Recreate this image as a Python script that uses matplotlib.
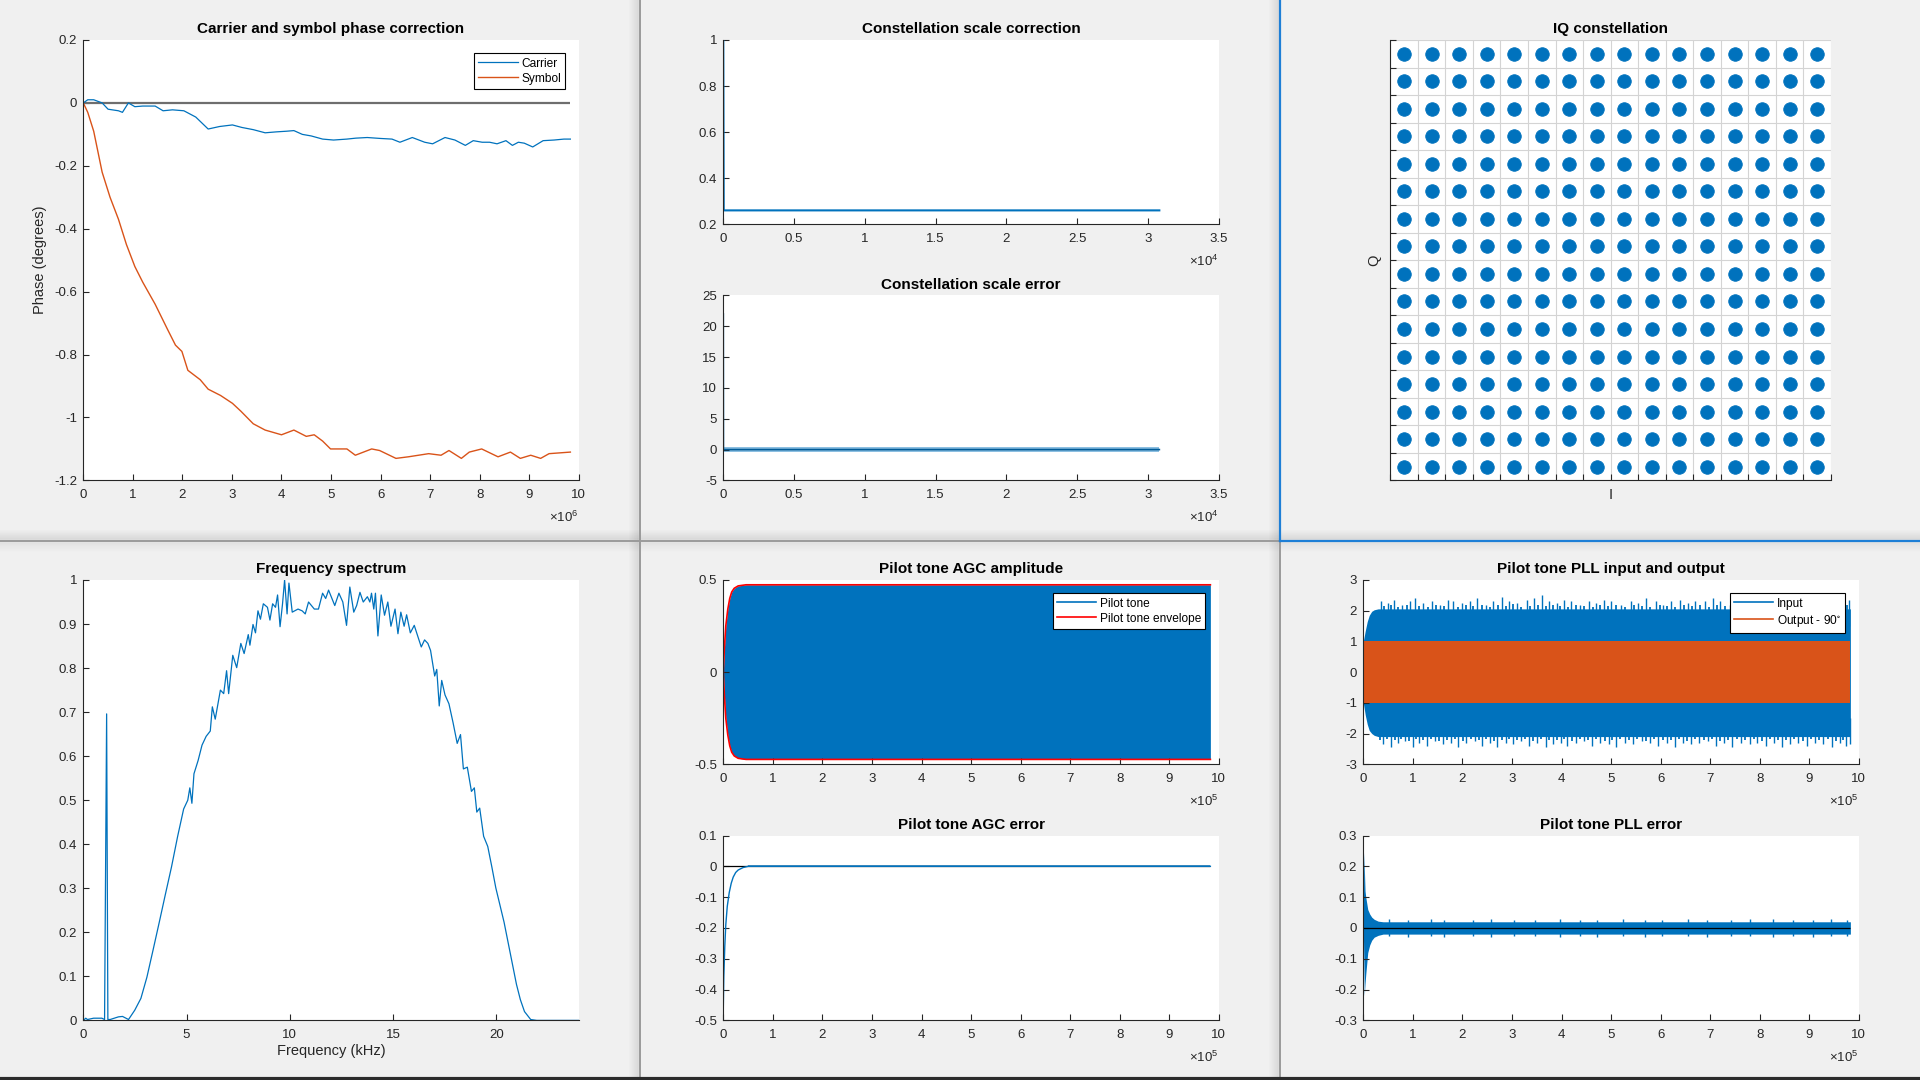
import numpy as np
import matplotlib
matplotlib.use('Agg')
import matplotlib.pyplot as plt
from matplotlib.lines import Line2D
from matplotlib.ticker import FuncFormatter

plt.rcParams['font.family'] = ['Liberation Sans', 'DejaVu Sans']
plt.rcParams['mathtext.fontset'] = 'custom'
plt.rcParams['mathtext.rm'] = 'Liberation Sans'
plt.rcParams['mathtext.it'] = 'Liberation Sans:italic'
plt.rcParams['mathtext.bf'] = 'Liberation Sans:bold'
plt.rcParams['mathtext.default'] = 'regular'

BLUE = '#0072BD'
ORANGE = '#D95319'
AXC = '#262626'
BG = '#F0F0F0'

# ---------------- data ----------------
# Carrier / symbol phase correction (x in units of 1e6 samples)
carrier_x = [0, 0.09, 0.21, 0.38, 0.50, 0.71, 0.79, 0.91, 1.04, 1.2,
             1.45, 1.61, 1.8, 2.03, 2.27, 2.52, 2.75, 3.01, 3.2, 3.43,
             3.67, 3.9, 4.1, 4.25, 4.42, 4.6, 4.83, 5.05, 5.32, 5.5,
             5.73, 6.0, 6.23, 6.39, 6.64, 6.89, 7.05, 7.30, 7.5, 7.71,
             7.87, 8.05, 8.20, 8.35, 8.53, 8.66, 8.78, 8.9, 9.07, 9.28,
             9.5, 9.7, 9.83]
carrier_y = [0, 0.01, 0.01, 0.0, -0.02, -0.025, -0.03, 0.0, -0.012, -0.01,
             -0.01, -0.025, -0.022, -0.025, -0.045, -0.083, -0.075, -0.07, -0.078, -0.085,
             -0.095, -0.092, -0.09, -0.088, -0.1, -0.105, -0.115, -0.118, -0.115, -0.112,
             -0.11, -0.113, -0.115, -0.125, -0.11, -0.125, -0.13, -0.11, -0.118, -0.135,
             -0.12, -0.125, -0.125, -0.13, -0.12, -0.135, -0.125, -0.128, -0.14, -0.12,
             -0.118, -0.115, -0.115]
symbol_x = [0, 0.09, 0.21, 0.38, 0.54, 0.71, 0.87, 1.04, 1.20, 1.45,
            1.70, 1.86, 1.99, 2.11, 2.36, 2.52, 2.77, 3.01, 3.18, 3.43,
            3.67, 4.00, 4.25, 4.50, 4.66, 4.83, 4.99, 5.32, 5.49, 5.82,
            5.98, 6.31, 6.56, 6.97, 7.22, 7.38, 7.63, 7.79, 8.04, 8.37,
            8.62, 8.82, 9.03, 9.23, 9.40, 9.83]
symbol_y = [0, -0.03, -0.09, -0.22, -0.30, -0.37, -0.45, -0.52, -0.57, -0.64,
            -0.72, -0.77, -0.79, -0.85, -0.88, -0.91, -0.93, -0.955, -0.98, -1.02,
            -1.04, -1.055, -1.04, -1.06, -1.055, -1.075, -1.10, -1.10, -1.12, -1.10,
            -1.105, -1.13, -1.125, -1.115, -1.12, -1.105, -1.13, -1.11, -1.10, -1.125,
            -1.11, -1.13, -1.12, -1.13, -1.115, -1.11]

# Constellation scale correction / error (x in samples)
scale_corr_x = [0, 30, 30800]
scale_corr_y = [1.0, 0.26, 0.26]
scale_err_x = [0, 10, 30800]
scale_err_y = [22.0, 0.0, 0.0]
scale_err_band = 0.35

# IQ constellation (256-QAM levels)
iq_levels = [-15, -13, -11, -9, -7, -5, -3, -1, 1, 3, 5, 7, 9, 11, 13, 15]

# Frequency spectrum
spec_khz = [0, 0.12, 0.2, 0.5, 0.9, 1.03, 1.13, 1.19, 1.3, 1.7,
            1.9, 2.19, 2.49, 2.79, 3.08, 3.38, 3.68, 3.97, 4.27, 4.57,
            4.86, 5.06, 5.16, 5.26, 5.36, 5.56, 5.75, 5.95, 6.15, 6.25,
            6.39, 6.64, 6.8, 6.94, 7.04, 7.24, 7.43, 7.63, 7.79, 7.99,
            8.07, 8.22, 8.34, 8.46, 8.58, 8.72, 8.92, 9.04, 9.17, 9.31,
            9.41, 9.53, 9.65, 9.75, 9.87, 9.96, 10.12, 10.4, 10.6, 10.75,
            10.91, 11.19, 11.39, 11.59, 11.74, 11.88, 12.18, 12.38, 12.57, 12.75,
            12.91, 13.1, 13.24, 13.4, 13.56, 13.76, 13.88, 13.96, 14.07, 14.15,
            14.27, 14.43, 14.59, 14.75, 14.9, 15.1, 15.24, 15.38, 15.54, 15.66,
            15.84, 16.03, 16.23, 16.37, 16.53, 16.69, 16.82, 17.02, 17.12, 17.24,
            17.36, 17.52, 17.71, 17.91, 18.11, 18.27, 18.41, 18.6, 18.8, 18.94,
            19.06, 19.2, 19.39, 19.59, 19.79, 19.98, 20.18, 20.38, 20.58, 20.78,
            20.98, 21.17, 21.37, 21.67, 21.96, 24]
spec_mag = [0, 0.005, 0.002, 0.005, 0.005, 0.002, 0.696, 0.002, 0.002, 0.008,
            0.009, 0.002, 0.023, 0.05, 0.098, 0.16, 0.223, 0.285, 0.348, 0.418,
            0.48, 0.5, 0.528, 0.493, 0.56, 0.59, 0.625, 0.645, 0.657, 0.712,
            0.684, 0.75, 0.742, 0.794, 0.742, 0.829, 0.801, 0.856, 0.833, 0.876,
            0.852, 0.899, 0.88, 0.93, 0.911, 0.946, 0.938, 0.909, 0.946, 0.938,
            0.966, 0.894, 0.946, 1.0, 0.923, 0.993, 0.927, 0.934, 0.93, 0.923,
            0.95, 0.934, 0.934, 0.97, 0.958, 0.977, 0.942, 0.97, 0.95, 0.897,
            0.984, 0.927, 0.942, 0.972, 0.95, 0.962, 0.95, 0.97, 0.934, 0.97,
            0.873, 0.966, 0.92, 0.95, 0.895, 0.934, 0.878, 0.927, 0.895, 0.921,
            0.88, 0.897, 0.868, 0.848, 0.864, 0.856, 0.84, 0.782, 0.797, 0.714,
            0.772, 0.739, 0.719, 0.676, 0.629, 0.649, 0.571, 0.575, 0.52, 0.528,
            0.473, 0.482, 0.418, 0.395, 0.348, 0.301, 0.262, 0.223, 0.176, 0.129,
            0.082, 0.047, 0.02, 0.002, 0, 0]

# Pilot tone AGC (x in units of 1e5 samples)
agc_env_x = [0, 0.02, 0.05, 0.09, 0.13, 0.17, 0.22, 0.3, 0.46, 9.83]
agc_env_y = [0, 0.12, 0.25, 0.34, 0.40, 0.435, 0.455, 0.468, 0.474, 0.474]
agc_err_x = [0, 0.01, 0.03, 0.05, 0.08, 0.12, 0.16, 0.2, 0.25, 0.3, 0.4, 0.5, 9.83]
agc_err_y = [-0.46, -0.36, -0.26, -0.19, -0.13, -0.085, -0.055, -0.035, -0.02, -0.012, -0.004, 0, 0]
agc_err_noise = 0.003

# Pilot tone PLL (x in units of 1e5 samples)
pll_in_x = [0, 0.04, 0.08, 0.12, 0.17, 0.22, 0.3, 9.83]
pll_in_hi = [1.0, 1.35, 1.65, 1.85, 1.98, 2.03, 2.06, 2.06]
pll_in_lo = [-1.0, -1.4, -1.7, -1.9, -2.0, -2.06, -2.1, -2.1]
pll_out_x = [0, 9.83]
pll_out_amp = [1.0, 1.0]
pll_up_spk_x = [0.35, 0.50, 0.62, 0.78, 0.95, 1.05, 1.20, 1.38, 1.55, 1.70,
                1.82, 2.00, 2.15, 2.30, 2.48, 2.62, 2.80, 2.95, 3.10, 3.30,
                3.45, 3.60, 3.75, 3.90, 4.05, 4.20, 4.38, 4.55, 4.70, 4.85,
                5.00, 5.20, 5.40, 5.55, 5.70, 5.90, 6.05, 6.20, 6.40, 6.55,
                6.70, 6.90, 7.05, 7.20, 7.40, 7.55, 7.70, 7.90, 8.05, 8.20,
                8.40, 8.55, 8.70, 8.90, 9.05, 9.20, 9.40, 9.55, 9.70, 9.80]
pll_up_spk_y = [2.30, 2.25, 2.35, 2.20, 2.30, 2.40, 2.25, 2.30, 2.20, 2.35,
                2.30, 2.25, 2.30, 2.40, 2.20, 2.30, 2.45, 2.30, 2.25, 2.35,
                2.40, 2.50, 2.30, 2.25, 2.35, 2.30, 2.20, 2.30, 2.25, 2.35,
                2.30, 2.20, 2.30, 2.25, 2.40, 2.30, 2.20, 2.30, 2.35, 2.25,
                2.30, 2.30, 2.40, 2.30, 2.20, 2.35, 2.30, 2.25, 2.30, 2.20,
                2.30, 2.35, 2.25, 2.30, 2.20, 2.30, 2.25, 2.30, 2.20, 2.35]
pll_up_spk2_x = [0.42, 0.56, 0.71, 0.88, 1.13, 1.31, 1.47, 1.63, 1.91, 2.07,
                 2.22, 2.39, 2.55, 2.71, 2.87, 3.03, 3.19, 3.37, 3.52, 3.68,
                 3.83, 3.97, 4.13, 4.29, 4.46, 4.63, 4.78, 4.93, 5.09, 5.28,
                 5.47, 5.63, 5.79, 5.98, 6.13, 6.29, 6.47, 6.63, 6.79, 6.97,
                 7.13, 7.29, 7.47, 7.63, 7.81, 7.97, 8.13, 8.31, 8.47, 8.63,
                 8.81, 8.97, 9.13, 9.31, 9.47, 9.63, 9.76]
pll_up_spk2_y = [2.15, 2.18, 2.12, 2.2, 2.16, 2.13, 2.19, 2.15, 2.12, 2.18,
                 2.16, 2.2, 2.13, 2.17, 2.15, 2.21, 2.12, 2.16, 2.18, 2.14,
                 2.2, 2.15, 2.12, 2.18, 2.16, 2.13, 2.19, 2.15, 2.17, 2.12,
                 2.2, 2.15, 2.13, 2.18, 2.16, 2.12, 2.19, 2.15, 2.17, 2.13,
                 2.2, 2.16, 2.12, 2.18, 2.15, 2.13, 2.19, 2.16, 2.12, 2.18,
                 2.15, 2.2, 2.13, 2.17, 2.15, 2.12, 2.18]
pll_dn_spk_x = [0.40, 0.55, 0.70, 0.85, 1.00, 1.12, 1.28, 1.45, 1.60, 1.78,
                1.92, 2.08, 2.25, 2.40, 2.55, 2.70, 2.88, 3.02, 3.18, 3.35,
                3.50, 3.68, 3.82, 3.98, 4.12, 4.30, 4.45, 4.62, 4.78, 4.95,
                5.10, 5.28, 5.45, 5.62, 5.78, 5.95, 6.12, 6.30, 6.45, 6.62,
                6.78, 6.95, 7.12, 7.28, 7.45, 7.62, 7.80, 7.95, 8.12, 8.28,
                8.45, 8.62, 8.78, 8.95, 9.12, 9.28, 9.45, 9.62, 9.75, 9.82]
pll_dn_spk_y = [-2.35, -2.45, -2.30, -2.25, -2.45, -2.30, -2.40, -2.25, -2.35, -2.30,
                -2.45, -2.30, -2.25, -2.40, -2.30, -2.45, -2.30, -2.35, -2.25, -2.40,
                -2.30, -2.45, -2.35, -2.30, -2.40, -2.30, -2.25, -2.40, -2.30, -2.35,
                -2.45, -2.30, -2.35, -2.25, -2.30, -2.40, -2.30, -2.45, -2.30, -2.35,
                -2.30, -2.25, -2.40, -2.30, -2.45, -2.30, -2.35, -2.30, -2.40, -2.30,
                -2.45, -2.35, -2.30, -2.40, -2.30, -2.35, -2.45, -2.30, -2.40, -2.35]
pll_dn_spk2_x = [0.33, 0.47, 0.63, 0.77, 0.93, 1.07, 1.21, 1.37, 1.53, 1.69,
                 1.86, 2.01, 2.17, 2.33, 2.47, 2.63, 2.79, 2.95, 3.11, 3.27,
                 3.43, 3.59, 3.75, 3.91, 4.06, 4.21, 4.37, 4.54, 4.70, 4.87,
                 5.02, 5.19, 5.36, 5.53, 5.70, 5.87, 6.04, 6.21, 6.38, 6.54,
                 6.70, 6.87, 7.04, 7.20, 7.37, 7.54, 7.71, 7.88, 8.04, 8.20,
                 8.37, 8.54, 8.70, 8.87, 9.04, 9.20, 9.37, 9.54, 9.69]
pll_dn_spk2_y = [-2.2, -2.17, -2.22, -2.18, -2.25, -2.19, -2.21, -2.17, -2.24, -2.2,
                 -2.18, -2.23, -2.19, -2.21, -2.17, -2.25, -2.2, -2.18, -2.22, -2.19,
                 -2.24, -2.17, -2.21, -2.2, -2.18, -2.23, -2.19, -2.22, -2.17, -2.25,
                 -2.2, -2.18, -2.22, -2.19, -2.24, -2.17, -2.21, -2.2, -2.18, -2.23,
                 -2.19, -2.22, -2.17, -2.25, -2.2, -2.18, -2.22, -2.19, -2.24, -2.17,
                 -2.21, -2.2, -2.18, -2.23, -2.19, -2.22, -2.17, -2.25, -2.2]
pll_err_x = [0, 0.01, 0.02, 0.035, 0.05, 0.09, 0.13, 0.17, 0.22, 0.3, 0.4, 9.83]
pll_err_hi = [0.0, 0.245, 0.2, 0.12, 0.1, 0.06, 0.045, 0.035, 0.028, 0.022, 0.02, 0.02]
pll_err_lo = [0.0, -0.1, -0.22, -0.18, -0.15, -0.08, -0.055, -0.04, -0.03, -0.024, -0.02, -0.02]
pll_err_spk_x = [0.52, 0.9, 1.37, 1.63, 2.21, 2.58, 3.05, 3.47, 3.96, 4.38,
                 4.71, 5.24, 5.69, 6.02, 6.55, 6.93, 7.42, 7.81, 8.26, 8.67,
                 9.08, 9.44, 9.77]
pll_err_spk_hi = [0.028, 0.025, 0.029, 0.026, 0.027, 0.03, 0.025, 0.027, 0.028, 0.025,
                  0.026, 0.028, 0.025, 0.027, 0.029, 0.025, 0.026, 0.028, 0.03, 0.027,
                  0.025, 0.028, 0.027]
pll_err_spk_lo = [-0.027, -0.03, -0.025, -0.028, -0.026, -0.029, -0.027, -0.025, -0.03, -0.026,
                  -0.028, -0.025, -0.029, -0.027, -0.026, -0.03, -0.025, -0.027, -0.028, -0.026,
                  -0.029, -0.025, -0.027]

# ---------------- figure ----------------
W, H = 1920, 1080
fig = plt.figure(figsize=(W / 100, H / 100), dpi=100, facecolor=BG)


def add_ax(l, t, r, b):
    return fig.add_axes([l / W, 1 - b / H, (r - l) / W, (b - t) / H])


def fmt(v):
    r = round(v, 6)
    if r == 0:
        return '0'
    return '%g' % r


def style(ax, xlim, ylim, xt, yt, xscale=1.0, exp=None, title=None):
    ax.set_xlim(xlim)
    ax.set_ylim(ylim)
    ax.set_xticks(xt)
    ax.set_yticks(yt)
    ax.xaxis.set_major_formatter(FuncFormatter(lambda v, p: fmt(v / xscale)))
    ax.yaxis.set_major_formatter(FuncFormatter(lambda v, p: fmt(v)))
    for s in ('top', 'right'):
        ax.spines[s].set_visible(False)
    for s in ('left', 'bottom'):
        ax.spines[s].set_color(AXC)
        ax.spines[s].set_linewidth(0.8)
        ax.spines[s].set_zorder(5)
    ax.tick_params(axis='both', direction='in', length=4, width=0.8,
                   colors=AXC, labelsize=9.5)
    ax.tick_params(axis='x', pad=6)
    ax.tick_params(axis='y', pad=4.5)
    if exp is not None:
        ax.annotate(r'$\times10^{%d}$' % exp, xy=(1, 0), xycoords='axes fraction',
                    xytext=(0, -27), textcoords='offset points', ha='right',
                    va='center', fontsize=9.5, color=AXC)
    if title:
        ax.set_title(title, fontsize=11, fontweight='bold', pad=5, color='black')


def legend(ax, handles, labels, ax_h_px):
    leg = ax.legend(handles, labels, loc='upper right',
                    bbox_to_anchor=(1 - 13.5 / 495.5, 1 - 13.4 / ax_h_px),
                    borderaxespad=0, fontsize=8.6, frameon=True, fancybox=False,
                    edgecolor='black', framealpha=1, handlelength=3.3,
                    handletextpad=0.3, borderpad=0.35, labelspacing=0.25)
    leg.get_frame().set_linewidth(0.8)
    leg.set_zorder(10)
    return leg


# Panel 1: carrier and symbol phase correction
ax1 = add_ax(83.3, 40, 578.8, 480.4)
cx = np.array(carrier_x) * 1e6
sx = np.array(symbol_x) * 1e6
ax1.hlines(0, 0, cx[-1], color='#6E6E6E', lw=1.6)
l1, = ax1.plot(cx, carrier_y, color=BLUE, lw=0.9)
l2, = ax1.plot(sx, symbol_y, color=ORANGE, lw=1.0)
style(ax1, (0, 1e7), (-1.2, 0.2), np.arange(0, 11) * 1e6,
      [-1.2, -1.0, -0.8, -0.6, -0.4, -0.2, 0, 0.2], xscale=1e6, exp=6,
      title='Carrier and symbol phase correction')
ax1.set_ylabel('Phase (degrees)', fontsize=10.5, color=AXC)
ax1.yaxis.set_label_coords(-36 / 495.5, 0.5)
legend(ax1, [l1, l2], ['Carrier', 'Symbol'], 440.4)

# Constellation scale correction
ax_sc = add_ax(723.3, 40, 1218.8, 224.2)
ax_sc.plot(scale_corr_x, scale_corr_y, color=BLUE, lw=1.5)
style(ax_sc, (0, 3.5e4), (0.2, 1.0), np.arange(0, 8) * 5e3,
      [0.2, 0.4, 0.6, 0.8, 1.0], xscale=1e4, exp=4,
      title='Constellation scale correction')

# Constellation scale error
ax_se = add_ax(723.3, 295.5, 1218.8, 480.4)
ax_se.fill_between(scale_err_x[1:], -scale_err_band, scale_err_band,
                   color=BLUE, alpha=0.45, lw=0)
ax_se.plot(scale_err_x, scale_err_y, color='#005B98', lw=1.2)
style(ax_se, (0, 3.5e4), (-5, 25), np.arange(0, 8) * 5e3,
      [-5, 0, 5, 10, 15, 20, 25], xscale=1e4, exp=4,
      title='Constellation scale error')

# IQ constellation
ax_iq = add_ax(1390.2, 40, 1831, 480.4)
gi, gq = np.meshgrid(iq_levels, iq_levels)
ax_iq.scatter(gi.ravel(), gq.ravel(), s=95, color=BLUE, edgecolors=BLUE,
              linewidths=0.6, zorder=3)
style(ax_iq, (-16, 16), (-16, 16), np.arange(-16, 17, 2), np.arange(-16, 17, 2),
      title='IQ constellation')
ax_iq.set_xticklabels([])
ax_iq.set_yticklabels([])
ax_iq.grid(True, color='#D4D4D4', lw=0.8)
ax_iq.set_axisbelow(True)
ax_iq.set_xlabel('I', fontsize=10.5, color=AXC)
ax_iq.xaxis.set_label_coords(0.5, -8 / 440.4)
ax_iq.set_ylabel('Q', fontsize=10.5, color=AXC, rotation=90)
ax_iq.yaxis.set_label_coords(-9 / 440.8, 0.5)

# Frequency spectrum
ax_fs = add_ax(83.3, 580, 578.8, 1020.4)
ax_fs.plot(spec_khz, spec_mag, color=BLUE, lw=0.9)
style(ax_fs, (0, 24), (0, 1), [0, 5, 10, 15, 20],
      [0, 0.1, 0.2, 0.3, 0.4, 0.5, 0.6, 0.7, 0.8, 0.9, 1.0],
      title='Frequency spectrum')
ax_fs.set_xlabel('Frequency (kHz)', fontsize=10.5, color=AXC)
ax_fs.xaxis.set_label_coords(0.5, -24 / 440.4)

# Pilot tone AGC amplitude
ax_aa = add_ax(723.3, 580, 1218.8, 764.2)
ex = np.array(agc_env_x) * 1e5
ey = np.array(agc_env_y)
ax_aa.fill_between(ex, -ey, ey, color=BLUE, lw=0)
ax_aa.plot(ex, ey, color='red', lw=1.2)
ax_aa.plot(ex, -ey, color='red', lw=1.2)
style(ax_aa, (0, 1e6), (-0.5, 0.5), np.arange(0, 11) * 1e5, [-0.5, 0, 0.5],
      xscale=1e5, exp=5, title='Pilot tone AGC amplitude')
legend(ax_aa, [Line2D([], [], color=BLUE, lw=1.2), Line2D([], [], color='red', lw=1.2)],
       ['Pilot tone', 'Pilot tone envelope'], 184.2)

# Pilot tone AGC error
ax_ae = add_ax(723.3, 835.5, 1218.8, 1020.4)
ax2x = np.array(agc_err_x) * 1e5
ax_ae.hlines(0, 0, ax2x[-1], color='black', lw=0.9)
ax_ae.fill_between(ax2x[-2:], -agc_err_noise, agc_err_noise, color=BLUE, alpha=0.6, lw=0)
ax_ae.plot(ax2x, agc_err_y, color=BLUE, lw=1.0)
style(ax_ae, (0, 1e6), (-0.5, 0.1), np.arange(0, 11) * 1e5,
      [-0.5, -0.4, -0.3, -0.2, -0.1, 0, 0.1], xscale=1e5, exp=5,
      title='Pilot tone AGC error')

# Pilot tone PLL input and output
ax_pi = add_ax(1363.3, 580, 1858.8, 764.2)
px = np.array(pll_in_x) * 1e5
ax_pi.fill_between(px, pll_in_lo, pll_in_hi, color=BLUE, lw=0)
ax_pi.vlines(np.array(pll_up_spk_x) * 1e5, 1.5, pll_up_spk_y, color=BLUE, lw=1.0)
ax_pi.vlines(np.array(pll_up_spk2_x) * 1e5, 1.5, pll_up_spk2_y, color=BLUE, lw=1.3)
ax_pi.vlines(np.array(pll_dn_spk_x) * 1e5, -1.5, pll_dn_spk_y, color=BLUE, lw=1.0)
ax_pi.vlines(np.array(pll_dn_spk2_x) * 1e5, -1.5, pll_dn_spk2_y, color=BLUE, lw=1.3)
pox = np.array(pll_out_x) * 1e5
pamp = np.array(pll_out_amp)
ax_pi.fill_between(pox, -pamp, pamp, color=ORANGE, lw=0, zorder=3)
style(ax_pi, (0, 1e6), (-3, 3), np.arange(0, 11) * 1e5, [-3, -2, -1, 0, 1, 2, 3],
      xscale=1e5, exp=5, title='Pilot tone PLL input and output')
legend(ax_pi, [Line2D([], [], color=BLUE, lw=1.2), Line2D([], [], color=ORANGE, lw=1.2)],
       ['Input', r'Output - 90$^{\circ}$'], 184.2)

# Pilot tone PLL error
ax_pe = add_ax(1363.3, 835.5, 1858.8, 1020.4)
pex = np.array(pll_err_x) * 1e5
ax_pe.fill_between(pex, pll_err_lo, pll_err_hi, color=BLUE, lw=0)
ax_pe.vlines(np.array(pll_err_spk_x) * 1e5, 0, pll_err_spk_hi, color=BLUE, lw=1.0)
ax_pe.vlines(np.array(pll_err_spk_x) * 1e5, 0, pll_err_spk_lo, color=BLUE, lw=1.0)
ax_pe.hlines(0, 0, pex[-1], color='black', lw=0.9, zorder=4)
style(ax_pe, (0, 1e6), (-0.3, 0.3), np.arange(0, 11) * 1e5,
      [-0.3, -0.2, -0.1, 0, 0.1, 0.2, 0.3], xscale=1e5, exp=5,
      title='Pilot tone PLL error')


# ---------------- window chrome: panel separators ----------------
def fline(x0, y0, x1, y1, color, lw=1.0, alpha=1.0):
    fig.add_artist(Line2D([x0 / W, x1 / W], [1 - y0 / H, 1 - y1 / H],
                          transform=fig.transFigure, color=color, lw=lw, alpha=alpha))


for i in range(10):
    a = 0.07 * (1 - i / 10)
    fline(638 - i, 0, 638 - i, 1077, 'black', 1.0, a)
    fline(1278 - i, 0, 1278 - i, 1077, 'black', 1.0, a)
    fline(0, 539 - i, W, 539 - i, 'black', 1.0, a)
    fline(0, 542 + i, W, 542 + i, 'black', 1.0, a * 0.6)
fline(639.5, 0, 639.5, 1077, '#9A9A9A', 1.4)
fline(1279.5, 540, 1279.5, 1077, '#9A9A9A', 1.4)
fline(0, 540.5, 1279.5, 540.5, '#9A9A9A', 1.4)
fline(1279.5, 0, 1279.5, 540.5, '#1E7FD6', 1.6)
fline(1279.5, 540.5, W, 540.5, '#1E7FD6', 1.6)
fline(0, 1078.5, W, 1078.5, '#2B2B2B', 3.0)

fig.savefig('out.png', dpi=100, facecolor=BG)
